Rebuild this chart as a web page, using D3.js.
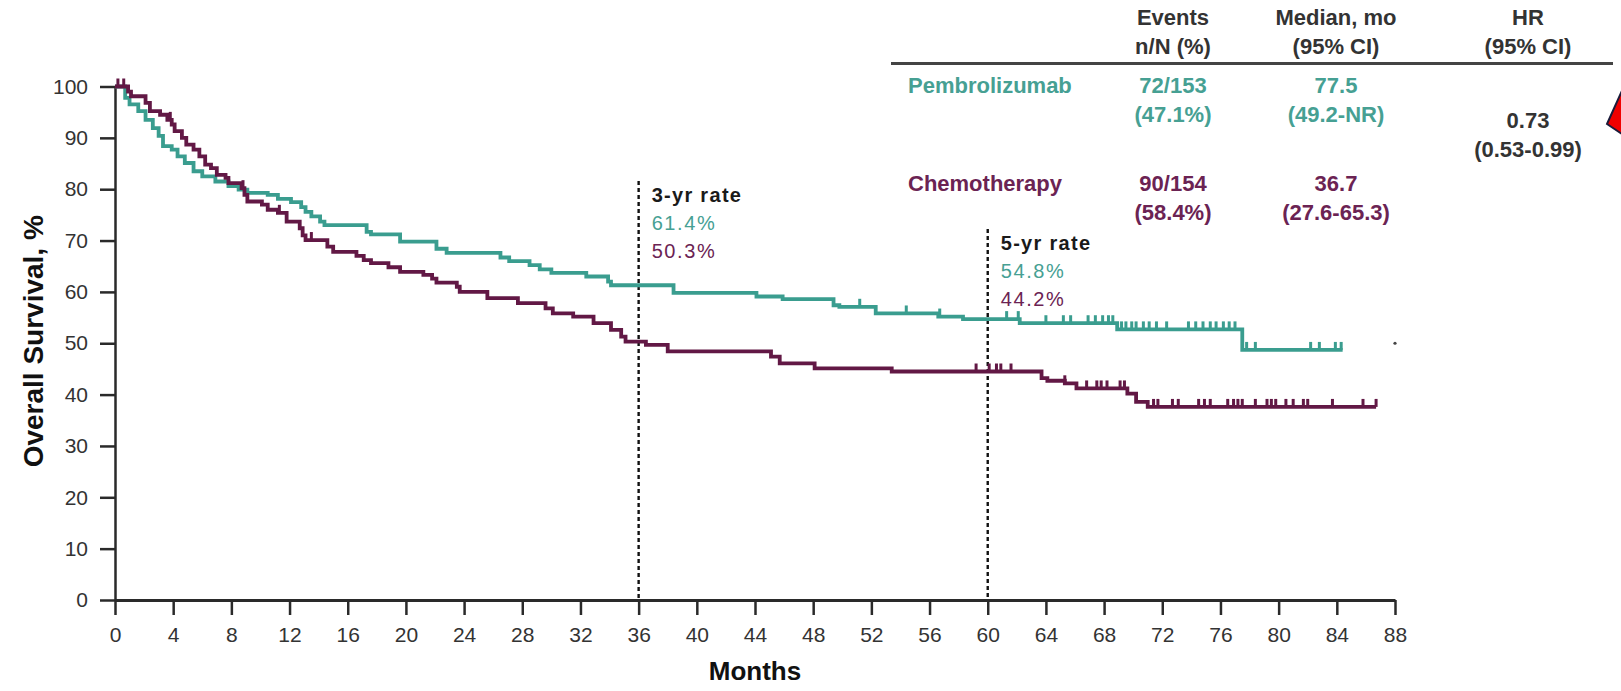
<!DOCTYPE html>
<html lang="en">

<head>
    <meta charset="UTF-8">
    <title>Overall Survival</title>
    <style>
        body { margin: 0; background: #fff; }
        text { font-family: "Liberation Sans", Arial, sans-serif; }
    </style>
</head>

<body>
    <script src="https://cdn.jsdelivr.net/npm/d3@7"></script>
    <script>
        // axis ticks
        var monthTicks = [0, 4, 8, 12, 16, 20, 24, 28, 32, 36, 40, 44, 48, 52, 56, 60, 64, 68, 72, 76, 80, 84, 88];
        var survTicks = [0, 10, 20, 30, 40, 50, 60, 70, 80, 90, 100];

        // KM steps: [month, survival %]
        var pembroSteps = [[0, 100], [0.7, 97.8], [1.0, 96.5], [1.6, 95.2], [2.1, 93.5], [2.6, 91.9], [3.0, 90.4],
            [3.3, 88.4], [3.9, 87.7], [4.3, 86.4], [4.8, 85.1], [5.4, 83.5], [6.0, 82.5], [6.9, 81.5], [7.8, 80.6],
            [8.5, 79.9], [9.1, 79.3], [10.5, 78.9], [11.2, 78.1], [12.1, 77.5], [12.8, 76.5], [13.1, 75.6],
            [13.5, 74.7], [14.1, 73.7], [14.4, 73.0], [17.3, 71.7], [17.6, 71.2], [19.6, 69.8], [22.1, 68.4],
            [22.8, 67.6], [26.5, 66.7], [27.1, 66.0], [28.5, 65.2], [29.2, 64.4], [30.0, 63.7], [32.4, 63.0],
            [33.9, 62.0], [34.1, 61.3], [38.4, 59.8], [44.1, 59.1], [45.9, 58.6], [49.4, 57.4], [49.8, 57.1],
            [52.3, 55.8], [56.6, 55.2], [58.3, 54.7], [62.2, 53.9], [68.9, 52.7], [77.5, 48.7], [84.4, 48.7]];
        var chemoSteps = [[0, 100], [0.9, 99.0], [1.1, 98.1], [2.1, 96.8], [2.4, 95.2], [3.1, 94.5], [3.6, 93.5],
            [3.9, 92.6], [4.1, 91.3], [4.6, 90.0], [4.9, 88.7], [5.4, 87.7], [5.8, 86.4], [6.2, 84.8], [6.6, 84.1],
            [7.0, 82.8], [7.6, 82.2], [7.8, 81.2], [8.7, 80.2], [8.9, 78.9], [9.1, 77.6], [10.1, 77.0], [10.5, 76.0],
            [11.2, 75.4], [11.8, 73.7], [12.7, 72.4], [12.9, 71.0], [13.1, 70.1], [14.6, 68.8], [15.0, 67.8],
            [16.6, 67.0], [17.1, 66.2], [17.6, 65.6], [18.8, 64.8], [19.6, 63.9], [21.2, 63.3], [21.8, 62.6],
            [22.1, 61.8], [23.5, 61.0], [23.7, 60.0], [25.6, 58.8], [27.7, 57.8], [29.6, 56.8], [30.1, 55.8],
            [31.5, 55.2], [32.9, 53.9], [34.1, 52.6], [34.8, 51.3], [35.1, 50.3], [36.5, 49.7], [38.0, 48.4],
            [45.1, 47.4], [45.7, 46.1], [48.1, 45.1], [53.4, 44.5], [63.7, 43.2], [64.1, 42.7], [65.3, 42.2],
            [66.1, 41.2], [69.6, 40.2], [70.2, 38.6], [71.0, 37.6], [86.7, 37.6]];

        // censored times (months)
        var pembroCensor = [51.2, 54.4, 56.7, 61.3, 62.1, 64.0, 65.2, 65.7, 66.9, 67.4, 67.9, 68.3, 68.6, 69.2, 69.5,
            69.9, 70.2, 70.7, 71.1, 71.6, 72.3, 73.8, 74.3, 74.8, 75.3, 75.7, 76.2, 76.6, 77.0, 77.8, 78.4, 82.2,
            82.8, 83.9, 84.3];
        var chemoCensor = [0.2, 0.6, 3.8, 8.8, 11.3, 13.5, 59.2, 60.1, 60.6, 60.9, 61.6, 65.3, 66.8, 67.5, 67.8,
            68.2, 69.1, 69.4, 71.4, 71.7, 72.7, 73.1, 74.5, 74.9, 75.3, 76.5, 76.9, 77.2, 77.5, 78.4, 79.2, 79.5,
            79.8, 80.5, 81.0, 81.7, 82.0, 83.7, 85.8, 86.7];

        // landmark rates
        var landmarks = [
            { month: 36, top: 181, title: "3-yr rate", pembro: "61.4%", chemo: "50.3%" },
            { month: 60, top: 229, title: "5-yr rate", pembro: "54.8%", chemo: "44.2%" }
        ];

        // summary table
        var headLine1 = ["Events", "Median, mo", "HR"];
        var headLine2 = ["n/N (%)", "(95% CI)", "(95% CI)"];
        var armNames = ["Pembrolizumab", "Chemotherapy"];
        var armEvents = [["72/153", "(47.1%)"], ["90/154", "(58.4%)"]];
        var armMedian = [["77.5", "(49.2-NR)"], ["36.7", "(27.6-65.3)"]];
        var hrText = ["0.73", "(0.53-0.99)"];

        var teal = "#3a9d8f";
        var plum = "#621845";
        var tealText = "#46a093";
        var plumText = "#6b2353";
        var ink = "#2a2a2a";

        var W = 1621, H = 691;
        var svg = d3.select("body").append("svg").attr("width", W).attr("height", H);
        svg.append("rect").attr("width", W).attr("height", H).attr("fill", "#fff");

        var x = d3.scaleLinear().domain([0, 88]).range([115, 1395]);
        var y = d3.scaleLinear().domain([0, 100]).range([600, 86.5]);

        // axes
        var yAxis = svg.append("g").attr("transform", "translate(115,0)")
            .call(d3.axisLeft(y).tickValues(survTicks).tickSize(15).tickSizeOuter(0).tickPadding(12));
        var xAxis = svg.append("g").attr("transform", "translate(0,600)")
            .call(d3.axisBottom(x).tickValues(monthTicks).tickSize(15).tickSizeOuter(0).tickPadding(12));
        [xAxis, yAxis].forEach(function (g) {
            g.select(".domain").attr("stroke", ink).attr("stroke-width", 2.5);
            g.selectAll(".tick line").attr("stroke", ink).attr("stroke-width", 2.5);
            g.selectAll(".tick text").attr("fill", "#333").style("font-size", "21px")
                .style("font-family", "'Liberation Sans', Arial, sans-serif");
        });
        xAxis.select(".domain").attr("stroke-width", 3);

        svg.append("text").attr("x", x(44)).attr("y", 680).attr("text-anchor", "middle")
            .style("font-size", "26px").style("font-weight", "bold").attr("fill", "#111").text("Months");
        svg.append("text").attr("transform", "translate(43," + (y(50) - 2) + ") rotate(-90)").attr("text-anchor", "middle")
            .style("font-size", "28px").style("font-weight", "bold").attr("fill", "#111").text("Overall Survival, %");

        // landmark dotted lines and rate labels
        landmarks.forEach(function (d) {
            svg.append("line").attr("x1", x(d.month)).attr("x2", x(d.month)).attr("y1", d.top).attr("y2", y(0))
                .attr("stroke", "#111").attr("stroke-width", 2.4).attr("stroke-dasharray", "4,3");
            var tx = x(d.month) + 13;
            svg.append("text").attr("x", tx).attr("y", d.top + 21).style("font-size", "20px").style("font-weight", "bold")
                .style("letter-spacing", "1.3px").attr("fill", "#1a1a1a").text(d.title);
            svg.append("text").attr("x", tx).attr("y", d.top + 49).style("font-size", "20px")
                .style("letter-spacing", "1.6px").attr("fill", tealText).text(d.pembro);
            svg.append("text").attr("x", tx).attr("y", d.top + 77).style("font-size", "20px")
                .style("letter-spacing", "1.6px").attr("fill", plumText).text(d.chemo);
        });

        // KM curves
        var line = d3.line().x(function (d) { return x(d[0]); }).y(function (d) { return y(d[1]); })
            .curve(d3.curveStepAfter);

        var survAt = function (steps, t) {
            var s = steps[0][1];
            for (var i = 0; i < steps.length; i++) {
                if (steps[i][0] <= t) s = steps[i][1];
            }
            return s;
        };

        var drawArm = function (steps, censor, color) {
            svg.append("path").datum(steps).attr("d", line).attr("fill", "none")
                .attr("stroke", color).attr("stroke-width", 3.8);
            svg.append("g").selectAll("line").data(censor).enter().append("line")
                .attr("x1", function (t) { return x(t); }).attr("x2", function (t) { return x(t); })
                .attr("y1", function (t) { return y(survAt(steps, t)); })
                .attr("y2", function (t) { return y(survAt(steps, t)) - 8; })
                .attr("stroke", color).attr("stroke-width", 3);
        };
        drawArm(pembroSteps, pembroCensor, teal);
        drawArm(chemoSteps, chemoCensor, plum);

        // stray dot right of the curves
        svg.append("circle").attr("cx", x(88)).attr("cy", y(50)).attr("r", 1.6).attr("fill", "#444");

        // summary table
        var colX = [1173, 1336, 1528];
        var table = svg.append("g").style("font-weight", "bold").style("font-size", "22px");
        colX.forEach(function (cx, i) {
            table.append("text").attr("x", cx).attr("y", 25).attr("text-anchor", "middle").attr("fill", "#333").text(headLine1[i]);
            table.append("text").attr("x", cx).attr("y", 54).attr("text-anchor", "middle").attr("fill", "#333").text(headLine2[i]);
        });
        svg.append("line").attr("x1", 891).attr("x2", 1613).attr("y1", 63.5).attr("y2", 63.5)
            .attr("stroke", "#444").attr("stroke-width", 3);

        var rowY = [93, 191];
        var rowColor = [tealText, plumText];
        armNames.forEach(function (name, i) {
            table.append("text").attr("x", 908).attr("y", rowY[i]).attr("fill", rowColor[i]).text(name);
            [armEvents[i], armMedian[i]].forEach(function (cell, j) {
                table.append("text").attr("x", colX[j]).attr("y", rowY[i]).attr("text-anchor", "middle")
                    .attr("fill", rowColor[i]).text(cell[0]);
                table.append("text").attr("x", colX[j]).attr("y", rowY[i] + 29).attr("text-anchor", "middle")
                    .attr("fill", rowColor[i]).text(cell[1]);
            });
        });
        table.append("text").attr("x", colX[2]).attr("y", 128).attr("text-anchor", "middle").attr("fill", "#333").text(hrText[0]);
        table.append("text").attr("x", colX[2]).attr("y", 157).attr("text-anchor", "middle").attr("fill", "#333").text(hrText[1]);

        // red arrow, cut off at the right edge
        svg.append("polygon").attr("points", "1607,124 1625,84 1625,136")
            .attr("fill", "#f00000").attr("stroke", "#1b1b3a").attr("stroke-width", 2);
    </script>
</body>

</html>
